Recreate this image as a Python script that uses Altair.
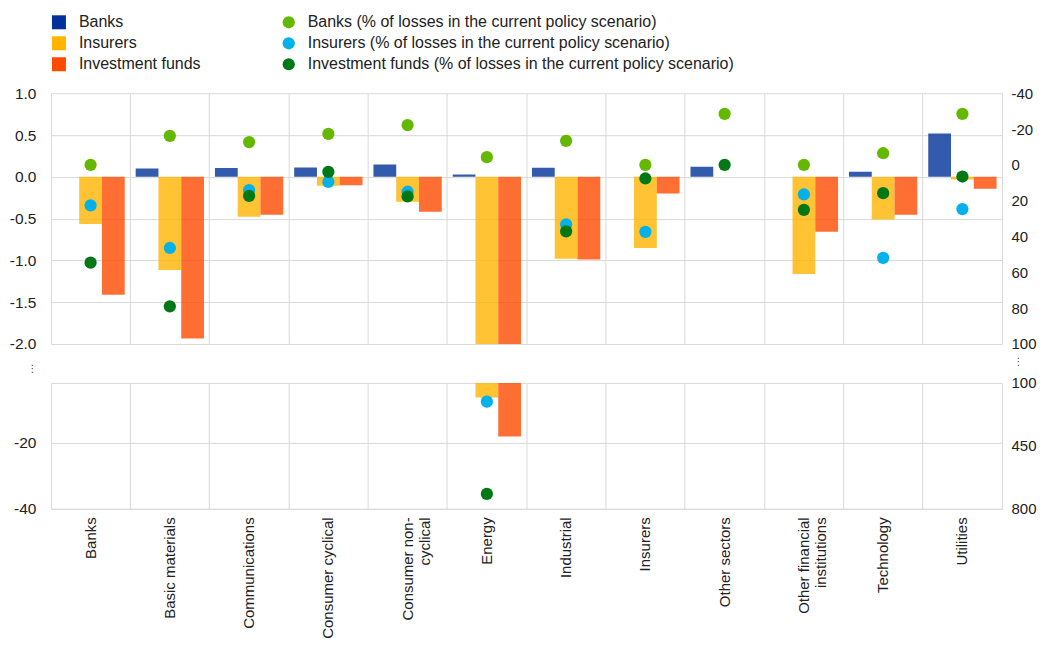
import altair as alt
import pandas as pd

categories = ["Banks", "Basic materials", "Communications", "Consumer cyclical",
              "Consumer non-cyclical", "Energy", "Industrial", "Insurers",
              "Other sectors", "Other financial institutions", "Technology", "Utilities"]

bar_series = ["Banks", "Insurers", "Investment funds"]
banks_bar = [0.0, 0.10, 0.104, 0.112, 0.148, 0.029, 0.108, 0.0, 0.12, 0.0, 0.06, 0.518]
insurers_bar = [-0.565, -1.115, -0.478, -0.107, -0.299, -6.4, -0.98, -0.852, 0.0, -1.163, -0.51, -0.031]
funds_bar = [-1.41, -1.935, -0.454, -0.10, -0.418, -18.2, -0.99, -0.199, 0.0, -0.657, -0.454, -0.143]

pct_series = ["Banks (% of losses in the current policy scenario)",
              "Insurers (% of losses in the current policy scenario)",
              "Investment funds (% of losses in the current policy scenario)"]
banks_pct = [0.0, -16.2, -12.7, -17.3, -22.2, -4.3, -13.4, 0.0, -28.5, 0.0, -6.5, -28.5]
insurers_pct = [22.6, 46.4, 14.1, 9.5, 15.0, 204.0, 33.2, 37.4, None, 16.5, 51.9, 24.7]
funds_pct = [54.6, 79.0, 17.3, 3.9, 17.6, 717.0, 37.1, 7.6, 0.0, 25.1, 15.8, 6.5]

left_top_ticks = [-2.0, -1.5, -1.0, -0.5, 0.0, 0.5, 1.0]
right_top_ticks = [-40, -20, 0, 20, 40, 60, 80, 100]
left_bot_ticks = [-40, -20, -2]
right_bot_ticks = [100, 450, 800]

bar_colors = ["#003299", "#FFB400", "#FF4B00"]
pct_colors = ["#65B800", "#00B1EA", "#007816"]

rows = []
for s, vals in zip(bar_series, [banks_bar, insurers_bar, funds_bar]):
    for c, v in zip(categories, vals):
        rows.append({"category": c, "series": s, "value": v})
bars_df = pd.DataFrame(rows)

rows = []
for s, vals in zip(pct_series, [banks_pct, insurers_pct, funds_pct]):
    for c, v in zip(categories, vals):
        if v is not None:
            rows.append({"category": c, "series": s, "value": v})
pts_df = pd.DataFrame(rows)

FONT = "Liberation Sans, Arial, sans-serif"
TEXT = "#222222"
GRID = "#d9d9d9"
W = 952
H_TOP = 251
H_BOT = 126
HYPHEN = "replace(datum.label, '\u2212', '-')"

xscale = alt.Scale(domain=categories, paddingInner=0, paddingOuter=0)
xoff = alt.XOffset("series:N", sort=bar_series,
                   scale=alt.Scale(domain=bar_series, paddingInner=0, paddingOuter=0.24))

x_top = alt.X("category:N", sort=categories, scale=xscale, title=None,
              axis=alt.Axis(labels=False, ticks=False, domain=False, grid=True,
                            bandPosition=0, gridColor=GRID))

label_expr = ("datum.label == 'Consumer non-cyclical' ? ['Consumer non-', 'cyclical'] : "
              "datum.label == 'Other financial institutions' ? ['Other financial', 'institutions'] : "
              "datum.label")
x_bot = alt.X("category:N", sort=categories, scale=xscale, title=None,
              axis=alt.Axis(labels=True, ticks=False, domain=True, domainColor=GRID,
                            grid=True, bandPosition=0, gridColor=GRID,
                            labelAngle=-90, labelAlign="right", labelBaseline="middle",
                            labelPadding=8, labelExpr=label_expr, labelLineHeight=17,
                            labelFontSize=15,
                            labelBound=False, labelOverlap=False, labelLimit=300))

color_top = alt.Color("series:N", sort=bar_series,
                      scale=alt.Scale(domain=bar_series, range=bar_colors),
                      legend=alt.Legend(orient="none", legendX=0, legendY=-79, title=None,
                                        symbolType="square", symbolSize=196,
                                        symbolOpacity=1, symbolStrokeWidth=0,
                                        labelFontSize=16, labelFont=FONT, labelColor=TEXT,
                                        labelOffset=12, rowPadding=5))
fill_top = alt.Fill("series:N", sort=pct_series,
                    scale=alt.Scale(domain=pct_series, range=pct_colors),
                    legend=alt.Legend(orient="none", legendX=230, legendY=-79, title=None,
                                      symbolType="circle", symbolSize=150,
                                      symbolOpacity=1, symbolStrokeWidth=0,
                                      labelFontSize=16, labelFont=FONT, labelColor=TEXT,
                                      labelOffset=11, rowPadding=5, labelLimit=600))

top_bars = alt.Chart(bars_df).mark_bar(opacity=0.8, clip=True).encode(
    x=x_top, xOffset=xoff,
    y=alt.Y("value:Q", title=None,
            scale=alt.Scale(domain=[-2, 1], nice=False, zero=False),
            axis=alt.Axis(orient="left", values=left_top_ticks, format=".1f",
                          labelExpr=HYPHEN, labelFontSize=15.5,
                          grid=True, gridColor=GRID, domain=False, ticks=False,
                          labelPadding=15)),
    y2=alt.datum(0),
    color=color_top,
)
top_pts = alt.Chart(pts_df).transform_filter("datum.value <= 100").mark_circle(
    size=150, opacity=1, clip=True).encode(
    x=x_top,
    y=alt.Y("value:Q", title=None,
            scale=alt.Scale(domain=[-40, 100], reverse=True, nice=False, zero=False),
            axis=alt.Axis(orient="right", values=right_top_ticks, grid=False,
                          labelExpr=HYPHEN,
                          domain=True, domainColor=GRID, ticks=False, labelPadding=9)),
    fill=fill_top,
)
top = alt.layer(top_bars, top_pts).resolve_scale(y="independent").properties(
    width=W, height=H_TOP)

bot_bars = alt.Chart(bars_df).mark_bar(opacity=0.8, clip=True).encode(
    x=x_bot, xOffset=xoff,
    y=alt.Y("value:Q",
            scale=alt.Scale(domain=[-40, -2], nice=False, zero=False),
            axis=alt.Axis(orient="left", values=left_bot_ticks,
                          labelExpr="datum.value == -2 ? '' : " + HYPHEN,
                          labelFontSize=15.5,
                          grid=True, gridColor=GRID, domain=False, ticks=False,
                          labelPadding=15, title="⋮", titleAngle=0, titleX=-19,
                          titleY=-14, titleFontSize=10, titleFont="DejaVu Sans",
                          titleFontWeight="normal", titleColor="#444444",
                          titleAlign="center", titleBaseline="middle")),
    y2=alt.datum(0),
    color=alt.Color("series:N", sort=bar_series,
                    scale=alt.Scale(domain=bar_series, range=bar_colors), legend=None),
)
bot_pts = alt.Chart(pts_df).transform_filter("datum.value >= 100").mark_circle(
    size=150, opacity=1, clip=True).encode(
    x=x_bot,
    y=alt.Y("value:Q",
            scale=alt.Scale(domain=[100, 800], reverse=True, nice=False, zero=False),
            axis=alt.Axis(orient="right", values=right_bot_ticks, grid=False,
                          domain=True, domainColor=GRID, ticks=False, labelPadding=9,
                          title="⋮", titleAngle=0, titleX=16, titleY=-21,
                          titleFontSize=10, titleFont="DejaVu Sans",
                          titleFontWeight="normal", titleColor="#444444",
                          titleAlign="center", titleBaseline="middle")),
    fill=alt.Fill("series:N", sort=pct_series,
                  scale=alt.Scale(domain=pct_series, range=pct_colors), legend=None),
)
bottom = alt.layer(bot_bars, bot_pts).resolve_scale(y="independent").properties(
    width=W, height=H_BOT)

chart = alt.vconcat(top, bottom, spacing=39, bounds="flush").resolve_scale(
    color="independent", fill="independent"
).properties(
    padding={"left": 1, "top": 6, "right": 0, "bottom": 0}
).configure_view(stroke=None).configure_axis(
    labelFont=FONT, labelFontSize=15, labelColor=TEXT
).configure_legend(labelFont=FONT)

chart.save("out.html", embed_options={"renderer": "svg", "actions": False})
